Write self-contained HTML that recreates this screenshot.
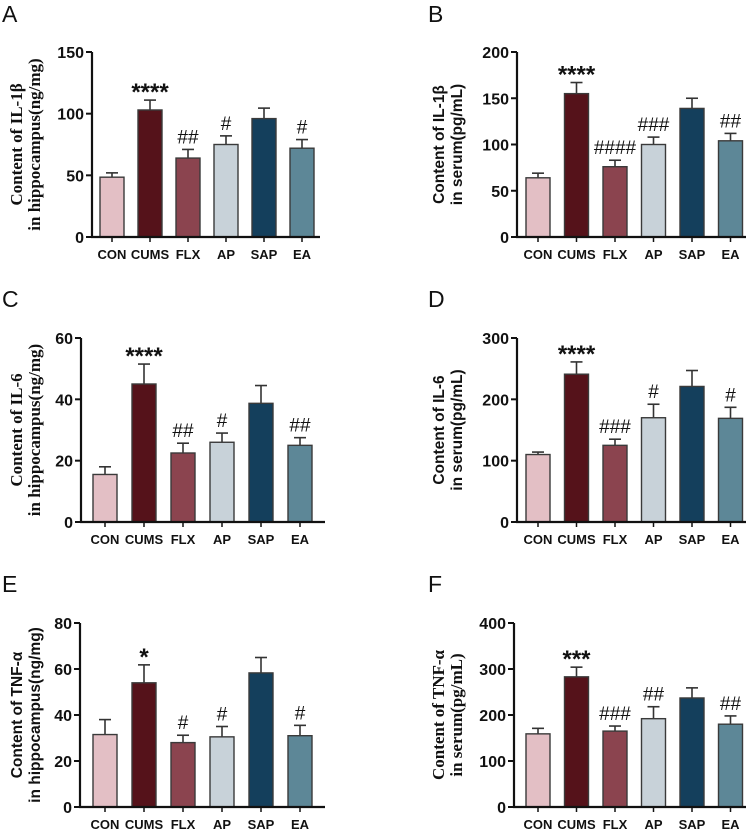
<!DOCTYPE html>
<html><head><meta charset="utf-8"><style>
body{margin:0;background:#fff;width:751px;height:830px;overflow:hidden}
svg text{font-family:"Liberation Sans",sans-serif}
</style></head><body>
<svg id="fig" width="751" height="830" xmlns="http://www.w3.org/2000/svg"></svg>
<script>
const categories=["CON","CUMS","FLX","AP","SAP","EA"];
const colors=["#e3bfc5","#55121a","#8b444f","#c8d2d9","#143f5c","#5d8797"];
const valuesA=[48.5,103,64,75,96,72];
const errorsA=[3.5,8,7,7,8.5,7];
const marksA=["","****","##","#","","#"];
const ticksA=[0,50,100,150];
const valuesB=[64,155,76,100,139,104];
const errorsB=[5,12,7,8,11,8];
const marksB=["","****","####","###","","##"];
const ticksB=[0,50,100,150,200];
const valuesC=[15.5,45,22.5,26,38.7,25];
const errorsC=[2.5,6.5,3.2,3,5.8,2.5];
const marksC=["","****","##","#","","##"];
const ticksC=[0,20,40,60];
const valuesD=[110,241,125,170,221,169];
const errorsD=[4,20,10,22,26,18];
const marksD=["","****","###","#","","#"];
const ticksD=[0,100,200,300];
const valuesE=[31.5,54,28,30.5,58.3,31];
const errorsE=[6.5,7.8,3.2,4.5,6.7,4.5];
const marksE=["","*","#","#","","#"];
const ticksE=[0,20,40,60,80];
const valuesF=[159,283,165,192,237,180];
const errorsF=[12,21,11,26,22,18];
const marksF=["","***","###","##","","##"];
const ticksF=[0,100,200,300,400];

const NS="http://www.w3.org/2000/svg";
const svg=document.getElementById('fig');
function mk(tag,attrs,parent,txt){const e=document.createElementNS(NS,tag);for(const k in attrs)e.setAttribute(k,attrs[k]);if(txt!==undefined)e.textContent=txt;(parent||svg).appendChild(e);return e;}

function panel(cfg){
  const g=mk('g',{});
  
  
  const max=cfg.ticks[cfg.ticks.length-1];
  const y=v=>cfg.y0-(v/max)*(cfg.y0-cfg.y1);
  const x=i=>cfg.c0+i*cfg.sp;
  const L=mk('text',{x:cfg.lx,y:cfg.ly,'font-size':23,fill:'#111'},g,cfg.letter);
  
  
  cfg.values.forEach((v,i)=>{
    const e=cfg.errors[i];
    const eb=mk('g',{},g);
    
    
    mk('line',{x1:x(i),x2:x(i),y1:y(v),y2:y(v+e),stroke:'#333','stroke-width':1.6},eb);
    mk('line',{x1:x(i)-6,x2:x(i)+6,y1:y(v+e),y2:y(v+e),stroke:'#333','stroke-width':1.6},eb);
    const r=mk('rect',{x:x(i)-12,y:y(v),width:24,height:cfg.y0-y(v),fill:colors[i],stroke:'#3a3a3a','stroke-width':1.4},g);
    
    
    if(cfg.marks[i]){
      const star=cfg.marks[i][0]==='*';
      const t=mk('text',{x:x(i),y:y(v+e)-(star?0:6),'text-anchor':'middle','font-size':star?24:19,'font-weight':star?'bold':'normal',fill:'#111'},g,cfg.marks[i]);
      
      
    }
    const xl=mk('text',{x:x(i),y:cfg.y0+22,'text-anchor':'middle','font-size':13,'font-weight':'bold',fill:'#111'},g,categories[i]);
    
    
    mk('line',{x1:x(i),x2:x(i),y1:cfg.y0,y2:cfg.y0+5,stroke:'#111','stroke-width':1.5},g);
  });
  const ya=mk('line',{x1:cfg.ax,x2:cfg.ax,y1:cfg.y1,y2:cfg.y0+1,stroke:'#111','stroke-width':2.2},g);
  
  
  const xa=mk('line',{x1:cfg.ax-1,x2:cfg.xe,y1:cfg.y0,y2:cfg.y0,stroke:'#111','stroke-width':2.2},g);
  
  
  cfg.ticks.forEach(t=>{
    mk('line',{x1:cfg.ax-6,x2:cfg.ax,y1:y(t),y2:y(t),stroke:'#111','stroke-width':2},g);
    const tl=mk('text',{x:cfg.ax-8,y:y(t)+6,'text-anchor':'end','font-size':16,'font-weight':'bold',fill:'#111'},g,t);
    
    
  });
  const cy=(cfg.y0+cfg.y1)/2;
  const tt=mk('text',{transform:`translate(${cfg.tx},${cy}) rotate(-90)`,'text-anchor':'middle','font-size':cfg.serif?17:15.5,'font-weight':'bold',fill:'#111',style:cfg.serif?'font-family:"Liberation Serif",serif':''},g);
  
  
  mk('tspan',{x:0,dy:0},tt,cfg.t1);
  mk('tspan',{x:0,dy:18},tt,cfg.t2);
}
panel({letter:'A',lx:2,ly:22,ax:92,xe:320,y0:237,y1:52,c0:112,sp:38,tx:22,serif:true,values:valuesA,errors:errorsA,marks:marksA,ticks:ticksA,t1:'Content of IL-1β',t2:'in hippocampus(ng/mg)'});
panel({letter:'B',lx:428,ly:22,ax:517,xe:746,y0:237,y1:52,c0:538,sp:38.5,tx:444,serif:false,values:valuesB,errors:errorsB,marks:marksB,ticks:ticksB,t1:'Content of IL-1β',t2:'in serum(pg/mL)'});
panel({letter:'C',lx:2,ly:307,ax:81,xe:325,y0:522,y1:338,c0:105,sp:39,tx:22,serif:true,values:valuesC,errors:errorsC,marks:marksC,ticks:ticksC,t1:'Content of IL-6',t2:'in hippocampus(ng/mg)'});
panel({letter:'D',lx:428,ly:307,ax:517,xe:746,y0:522,y1:338,c0:538,sp:38.5,tx:444,serif:false,values:valuesD,errors:errorsD,marks:marksD,ticks:ticksD,t1:'Content of IL-6',t2:'in serum(pg/mL)'});
panel({letter:'E',lx:2,ly:592,ax:80,xe:325,y0:807,y1:623,c0:105,sp:39,tx:22,serif:false,values:valuesE,errors:errorsE,marks:marksE,ticks:ticksE,t1:'Content of TNF-α',t2:'in hippocampus(ng/mg)'});
panel({letter:'F',lx:428,ly:592,ax:514,xe:746,y0:807,y1:623,c0:538,sp:38.5,tx:444,serif:true,values:valuesF,errors:errorsF,marks:marksF,ticks:ticksF,t1:'Content of TNF-α',t2:'in serum(pg/mL)'});
</script>
</body></html>
